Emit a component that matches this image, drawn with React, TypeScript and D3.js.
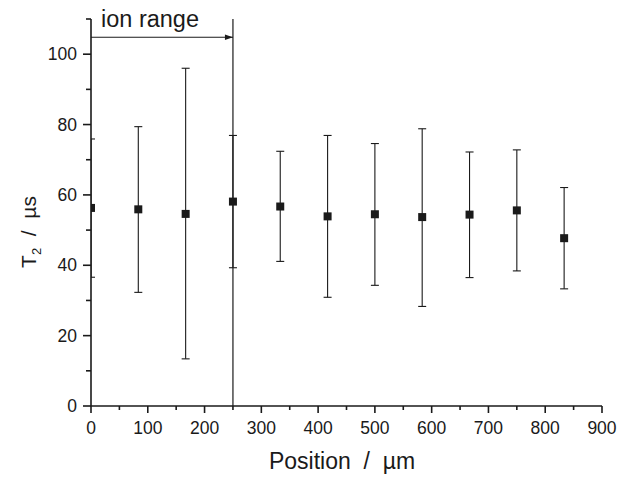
import React from "react";
import * as d3 from "d3";

const positions = [0, 83.3, 166.7, 250, 333.3, 416.7, 500, 583.3, 666.7, 750, 833.3];
const t2Values = [56.3, 55.9, 54.6, 58.1, 56.7, 53.9, 54.5, 53.7, 54.4, 55.6, 47.7];
const errLow = [36.6, 32.3, 13.4, 39.3, 41.1, 30.9, 34.3, 28.3, 36.5, 38.4, 33.3];
const errHigh = [75.9, 79.4, 96.0, 76.9, 72.4, 76.9, 74.6, 78.8, 72.2, 72.8, 62.1];
const xMajorTicks = [0, 100, 200, 300, 400, 500, 600, 700, 800, 900];
const xMinorTicks = [50, 150, 250, 350, 450, 550, 650, 750, 850];
const yMajorTicks = [0, 20, 40, 60, 80, 100];
const yMinorTicks = [10, 30, 50, 70, 90, 110];
const ionRangeEnd = 250;
const arrowY = 104.8;

export default function App() {
  const W = 621, H = 477;
  const left = 91, right = 602, top = 19, bottom = 406;
  const x = d3.scaleLinear().domain([0, 900]).range([left, right]);
  const y = d3.scaleLinear().domain([0, 110]).range([bottom, top]);
  const font = "'Liberation Sans', Arial, Helvetica, sans-serif";
  const cap = 4;
  const ms = 8;
  return (
    <svg width={W} height={H} style={{ position: "absolute", left: 0, top: 0, background: "#fff" }}>
      <defs>
        <clipPath id="plot">
          <rect x={left} y={0} width={right - left} height={bottom} />
        </clipPath>
        <marker id="arr" viewBox="0 0 10 10" refX="10" refY="5" markerWidth="10" markerHeight="8" orient="auto" markerUnits="userSpaceOnUse">
          <path d="M0,1.5 L10,5 L0,8.5 Z" fill="#1a1a1a" />
        </marker>
      </defs>
      <g clipPath="url(#plot)">
        {positions.map((p, i) => (
          <g key={i} stroke="#1a1a1a" strokeWidth={1.1}>
            <line x1={x(p)} x2={x(p)} y1={y(errLow[i])} y2={y(errHigh[i])} />
            <line x1={x(p) - cap} x2={x(p) + cap} y1={y(errLow[i])} y2={y(errLow[i])} />
            <line x1={x(p) - cap} x2={x(p) + cap} y1={y(errHigh[i])} y2={y(errHigh[i])} />
            <rect x={x(p) - ms / 2} y={y(t2Values[i]) - ms / 2} width={ms} height={ms} fill="#1a1a1a" stroke="none" />
          </g>
        ))}
      </g>
      <line x1={x(ionRangeEnd)} x2={x(ionRangeEnd)} y1={y(0)} y2={y(110)} stroke="#1a1a1a" strokeWidth={1.2} />
      <line x1={x(0)} x2={x(ionRangeEnd)} y1={y(arrowY)} y2={y(arrowY)} stroke="#1a1a1a" strokeWidth={1.1} markerEnd="url(#arr)" />
      <text x={101} y={27} fontFamily={font} fontSize={23.5} fill="#1a1a1a">ion range</text>
      <g stroke="#1a1a1a" strokeWidth={1.6}>
        <line x1={left} x2={right} y1={bottom} y2={bottom} />
        <line x1={left} x2={left} y1={bottom} y2={top} />
        {xMajorTicks.map((t) => (
          <line key={"xM" + t} x1={x(t)} x2={x(t)} y1={bottom} y2={bottom + 7} />
        ))}
        {xMinorTicks.map((t) => (
          <line key={"xm" + t} x1={x(t)} x2={x(t)} y1={bottom} y2={bottom + 4} />
        ))}
        {yMajorTicks.map((t) => (
          <line key={"yM" + t} x1={left - 8} x2={left} y1={y(t)} y2={y(t)} />
        ))}
        {yMinorTicks.map((t) => (
          <line key={"ym" + t} x1={left - 5} x2={left} y1={y(t)} y2={y(t)} />
        ))}
      </g>
      {xMajorTicks.map((t) => (
        <text key={"xl" + t} x={x(t)} y={bottom + 28} textAnchor="middle" fontFamily={font} fontSize={17.5} fill="#1a1a1a">{t}</text>
      ))}
      {yMajorTicks.map((t) => (
        <text key={"yl" + t} x={left - 14} y={y(t) + 6} textAnchor="end" fontFamily={font} fontSize={17.5} fill="#1a1a1a">{t}</text>
      ))}
      <text x={342} y={469} textAnchor="middle" fontFamily={font} fontSize={23} fill="#1a1a1a" style={{ whiteSpace: "pre" }}>
        {"Position  /  \u00b5m"}
      </text>
      <text transform={`translate(36, 232) rotate(-90)`} textAnchor="middle" fontFamily={font} fontSize={21} fill="#1a1a1a" style={{ whiteSpace: "pre" }}>
        <tspan>T</tspan>
        <tspan fontSize={13} dy={5}>2</tspan>
        <tspan dy={-5}>{"  /  \u00b5s"}</tspan>
      </text>
    </svg>
  );
}
